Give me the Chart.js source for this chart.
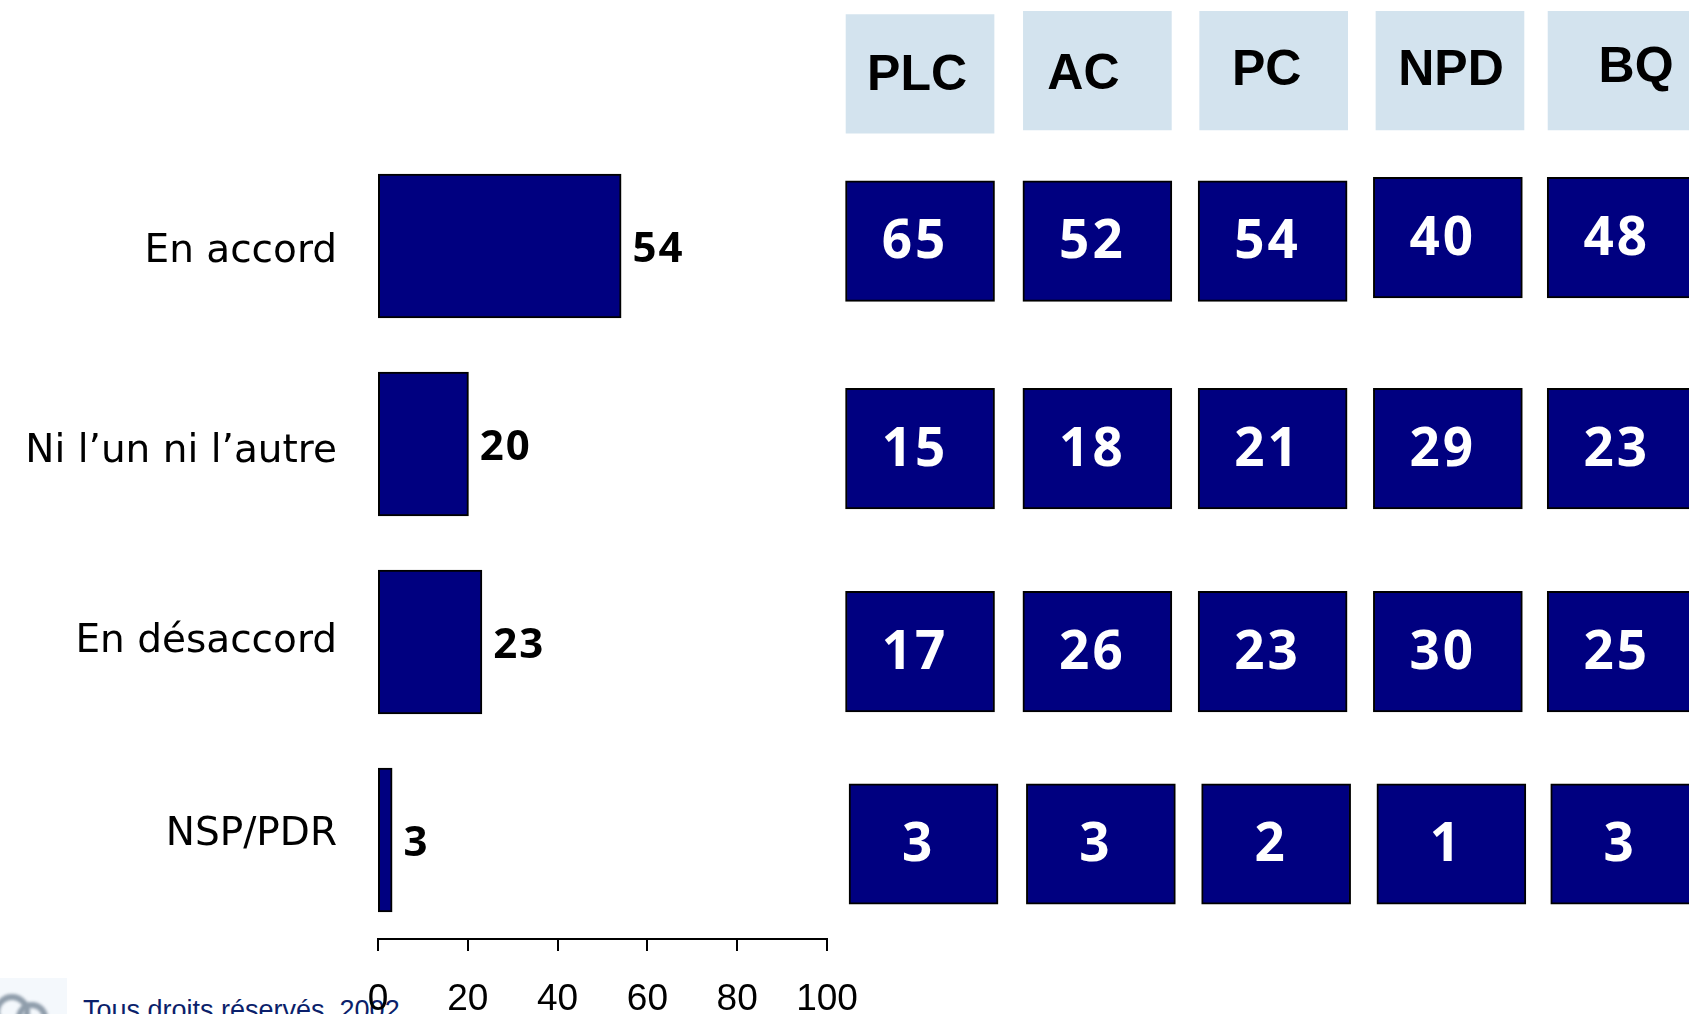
<!DOCTYPE html>
<html>
<head>
<meta charset="utf-8">
<style>
  html, body { margin: 0; padding: 0; background: #fff; overflow: hidden; width: 1689px; height: 1014px; }
  canvas { position: absolute; left: 0; top: 0; }
  #wrapMain { position: absolute; left: 0; top: 0; width: 1689px; height: 1014px; }
  #wrapCells { position: absolute; left: 0; top: 0; width: 1689px; height: 1014px; }
  #logo { position: absolute; left: 0; top: 978px; width: 67px; height: 36px; overflow: hidden; background: #f4f8fc; }
  #logo i { position: absolute; display: block; border: 6px solid #8f9dab; border-radius: 50%; filter: blur(1.5px); }
  #footer { position: absolute; left: 83px; top: 995px; font: 27px "Liberation Sans", sans-serif; color: #0b1f6b; white-space: nowrap; }
</style>
</head>
<body>
<div id="logo"><i style="left:-6px;top:16px;width:24px;height:24px"></i><i style="left:16px;top:24px;width:20px;height:20px"></i></div>
<div id="footer">Tous droits réservés, 2002</div>
<div id="wrapCells"><canvas id="cells"></canvas></div>
<div id="wrapMain"><canvas id="main"></canvas></div>

<script src="https://cdn.jsdelivr.net/npm/chart.js@4"></script>
<script>
// ================================
// DATA
// ================================
const answers = ["En accord", "Ni l\u2019un ni l\u2019autre", "En d\u00e9saccord", "NSP/PDR"];
const totals = [54, 20, 23, 3];
const axisTicks = [0, 20, 40, 60, 80, 100];

const parties = ["PLC", "AC", "PC", "NPD", "BQ"];
const enAccord = [65, 52, 54, 40, 48];
const niLunNiLautre = [15, 18, 21, 29, 23];
const enDesaccord = [17, 26, 23, 30, 25];
const nspPdr = [3, 3, 2, 1, 3];

// ================================
// LAYOUT (grid units and px nudges, the source slide is not quite aligned)
// ================================
const NAVY = "#000080";
const HEADER_BLUE = "#d3e3ee";
const CELL_HALF = 0.3;
const HEADER_HALF = 0.295;
const HEADER_ROW = -0.836;
const HEADER_ROW_SHIFT = [0.004, -0.012, -0.012, -0.012, -0.012];
const HEADER_COL_SHIFT = [0, 0.012, 0.018, 0.024, 0.006];
const COL_SHIFT = [0, 0.012, 0.012, 0.012, 0.004];
const ROW_OFFSET = [0, 0.032, 0.043, 0];
const ROW_SHIFT = [
  [0, 0, 0, -0.018, -0.018],
  [0, 0, 0, 0, 0],
  [0, 0, 0, 0, 0],
  [0, 0, 0, 0, 0]
];
const ROW_COL_SHIFT = [0, 0, 0, 0.02];
const HEADER_TEXT_SHIFT = [[-3, 2], [-14, 4], [-7, 0], [1, 0], [14, -3]];
const ANSWER_SHIFT = [6, 8, 0, -5];

const rows = [enAccord, niLunNiLautre, enDesaccord, nspPdr];

// ================================
// PLUGINS
// ================================
const totalsPlugin = {
  id: "totalsPlugin",
  afterDraw(chart) {
    const { ctx } = chart;
    const yScale = chart.scales.y;
    ctx.save();
    ctx.textBaseline = "middle";

    // answer names
    ctx.font = '39px "DejaVu Sans"';
    ctx.fillStyle = "#000";
    ctx.textAlign = "right";
    answers.forEach((a, i) => {
      ctx.fillText(a, 337, yScale.getPixelForValue(i) + ANSWER_SHIFT[i]);
    });

    // value next to each bar
    ctx.font = 'bold 42px "Noto Sans"';
    ctx.letterSpacing = "2px";
    ctx.textAlign = "left";
    chart.getDatasetMeta(0).data.forEach((bar, i) => {
      ctx.fillText(totals[i], bar.x + 12, bar.y + 4);
    });
    ctx.restore();
  }
};

const cellTextPlugin = {
  id: "cellTextPlugin",
  afterDatasetsDraw(chart) {
    const { ctx } = chart;
    ctx.save();
    ctx.textAlign = "center";
    ctx.textBaseline = "middle";

    // header row is dataset 0
    ctx.font = 'bold 50px "Liberation Sans"';
    ctx.fillStyle = "#000";
    chart.getDatasetMeta(0).data.forEach((box, i) => {
      const cy = (box.y + box.base) / 2;
      ctx.fillText(parties[i], box.x + HEADER_TEXT_SHIFT[i][0], cy + HEADER_TEXT_SHIFT[i][1]);
    });

    // values
    ctx.font = 'bold 53px "Noto Sans"';
    ctx.letterSpacing = "3px";
    ctx.fillStyle = "#fff";
    rows.forEach((row, r) => {
      chart.getDatasetMeta(r + 1).data.forEach((box, i) => {
        const cy = (box.y + box.base) / 2;
        ctx.fillText(row[i], box.x - 5, cy + 2);
      });
    });
    ctx.restore();
  }
};

// ================================
// BUILD CHARTS
// ================================
function buildMain() {
  new Chart(document.getElementById("main"), {
    type: "bar",
    data: {
      labels: answers,
      datasets: [{
        data: totals,
        backgroundColor: NAVY,
        borderColor: "#000",
        borderWidth: 2,
        borderSkipped: false,
        inflateAmount: 1,
        barPercentage: 0.72,
        categoryPercentage: 1
      }]
    },
    options: {
      indexAxis: "y",
      responsive: false,
      animation: false,
      events: [],
      layout: { padding: { left: 378, right: 862, top: 147, bottom: 0 } },
      plugins: { legend: { display: false }, tooltip: { enabled: false } },
      scales: {
        x: {
          min: 0,
          max: 100,
          afterBuildTicks(axis) { axis.ticks = axisTicks.map(v => ({ value: v })); },
          afterFit(axis) { axis.height = 75; },
          border: { color: "#000", width: 2 },
          grid: { drawOnChartArea: false, color: "#000", lineWidth: 2, tickLength: 12 },
          ticks: {
            color: "#000",
            maxRotation: 0,
            autoSkip: false,
            padding: 27,
            font: { family: "Liberation Sans", size: 37 }
          }
        },
        y: {
          afterFit(axis) { axis.width = 0; },
          border: { display: false },
          grid: { display: false },
          ticks: { display: false }
        }
      }
    },
    plugins: [totalsPlugin]
  });
}

function buildCells() {
  const headerData = parties.map((p, i) => {
    const mid = HEADER_ROW + HEADER_ROW_SHIFT[i];
    return { x: i + HEADER_COL_SHIFT[i], y: [mid - HEADER_HALF, mid + HEADER_HALF] };
  });
  const rowSets = rows.map((row, r) => ({
    data: row.map((v, i) => {
      const mid = r + ROW_OFFSET[r] + ROW_SHIFT[r][i];
      return { x: i + COL_SHIFT[i] + ROW_COL_SHIFT[r], y: [mid - CELL_HALF, mid + CELL_HALF] };
    }),
    backgroundColor: NAVY,
    borderColor: "#000",
    borderWidth: 2,
    borderSkipped: false,
    barThickness: 149
  }));

  new Chart(document.getElementById("cells"), {
    type: "bar",
    data: {
      datasets: [{
        data: headerData,
        backgroundColor: HEADER_BLUE,
        borderWidth: 0,
        barThickness: 148
      }].concat(rowSets)
    },
    options: {
      responsive: false,
      animation: false,
      events: [],
      grouped: false,
      plugins: { legend: { display: false }, tooltip: { enabled: false } },
      scales: {
        x: { type: "linear", display: false, offset: false, min: -5.25, max: 4.388 },
        y: { type: "linear", display: false, reverse: true, min: -1.2, max: 3.846 }
      }
    },
    plugins: [cellTextPlugin]
  });
}

// ================================
// MAIN
// ================================
for (const id of ["main", "cells"]) {
  const c = document.getElementById(id);
  c.width = 1689;
  c.height = 1014;
}
buildCells();
buildMain();
</script>
</body>
</html>
